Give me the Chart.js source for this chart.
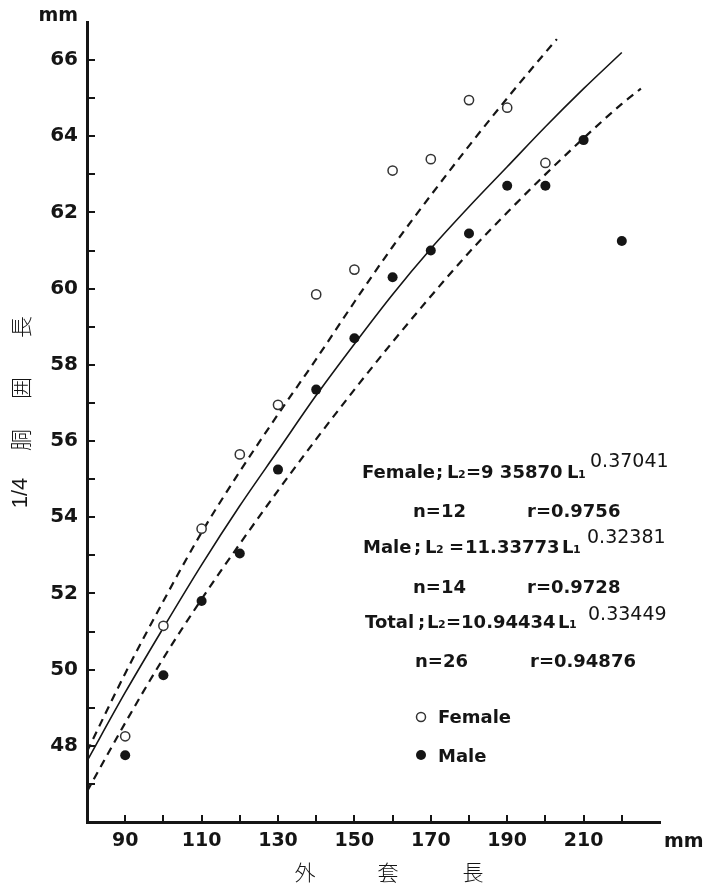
<!DOCTYPE html>
<html>
<head>
<meta charset="utf-8">
<script src="https://cdn.jsdelivr.net/npm/chart.js@4.4.1/dist/chart.umd.min.js"></script>
<style>
  html, body { margin: 0; padding: 0; background: #fff; }
  #wrap { width: 704px; height: 890px; }
</style>
</head>
<body>
<div id="wrap"><canvas id="chart" width="704" height="890"></canvas></div>
<script>
// 外套長 (mm) と 1/4胴囲長 (mm) の観測値
var femaleX = [90, 100, 110, 120, 130, 140, 150, 160, 170, 180, 190, 200];
var femaleY = [48.25, 51.15, 53.7, 55.65, 56.95, 59.85, 60.5, 63.1, 63.4, 64.95, 64.75, 63.3];

var maleX = [90, 100, 110, 120, 130, 140, 150, 160, 170, 180, 190, 200, 210, 220];
var maleY = [47.75, 49.85, 51.8, 53.05, 55.25, 57.35, 58.7, 60.3, 61.0, 61.45, 62.7, 62.7, 63.9, 61.25];

// 回帰曲線
var totalCurveX = [80, 90, 100, 110, 120, 130, 140, 150, 160, 170, 180, 190, 200, 210, 220];
var totalCurveY = [47.6, 49.4, 51.1, 52.75, 54.3, 55.75, 57.2, 58.55, 59.85, 61.05, 62.15, 63.2, 64.25, 65.25, 66.2];

var femaleCurveX = [80, 90, 100, 110, 120, 130, 140, 150, 160, 170, 180, 190, 200, 203];
var femaleCurveY = [47.85, 49.9, 51.8, 53.6, 55.2, 56.7, 58.15, 59.65, 61.1, 62.45, 63.75, 65.0, 66.2, 66.55];

var maleCurveX = [80, 90, 100, 110, 120, 130, 140, 150, 160, 170, 180, 190, 200, 210, 220, 225];
var maleCurveY = [46.8, 48.6, 50.3, 51.85, 53.3, 54.7, 56.05, 57.35, 58.6, 59.8, 60.95, 62.0, 63.0, 63.95, 64.85, 65.25];

// 軸の目盛り
var xMin = 80, xMax = 230;
var yMin = 46, yMax = 67;
var xTickLabels = [90, 110, 130, 150, 170, 190, 210];
var yTickLabels = [48, 50, 52, 54, 56, 58, 60, 62, 64, 66];
var xMinorTicks = [90, 100, 110, 120, 130, 140, 150, 160, 170, 180, 190, 200, 210, 220];
var yMinorTicks = [47, 48, 49, 50, 51, 52, 53, 54, 55, 56, 57, 58, 59, 60, 61, 62, 63, 64, 65, 66];

function toPoints(xs, ys) {
    return xs.map(function (x, i) { return { x: x, y: ys[i] }; });
}

var INK = '#151515';
var NUM_FONT = '"DejaVu Sans", Verdana, sans-serif';
var CJK_FONT = '"Noto Sans CJK JP", "Noto Sans CJK SC", sans-serif';

// 内向きの目盛り線
var innerTicks = {
    id: 'innerTicks',
    afterDraw: function (chart) {
        var ctx = chart.ctx;
        var a = chart.chartArea;
        var xs = chart.scales.x, ys = chart.scales.y;
        ctx.save();
        ctx.strokeStyle = INK;
        ctx.lineWidth = 2;
        xMinorTicks.forEach(function (v) {
            var px = Math.round(xs.getPixelForValue(v));
            ctx.beginPath();
            ctx.moveTo(px, a.bottom);
            ctx.lineTo(px, a.bottom - 7);
            ctx.stroke();
        });
        yMinorTicks.forEach(function (v) {
            var py = Math.round(ys.getPixelForValue(v));
            ctx.beginPath();
            ctx.moveTo(a.left, py);
            ctx.lineTo(a.left + 8, py);
            ctx.stroke();
        });
        ctx.restore();
    }
};

function txt(ctx, s, x, y, font, align) {
    ctx.font = font;
    ctx.textAlign = align || 'left';
    ctx.fillText(s, x, y);
}

// 注記・軸タイトル
var annotations = {
    id: 'annotations',
    afterDraw: function (chart) {
        var ctx = chart.ctx;
        var b = 'bold 18px ' + NUM_FONT;
        var sub = 'bold 11px ' + NUM_FONT;
        var sup = '19px ' + NUM_FONT;
        ctx.save();
        ctx.fillStyle = INK;
        ctx.textBaseline = 'alphabetic';

        // 単位
        txt(ctx, 'mm', 78, 21, 'bold 19px ' + NUM_FONT, 'right');
        txt(ctx, 'mm', 664, 847, 'bold 19px ' + NUM_FONT, 'left');

        // Female
        txt(ctx, 'Female', 362, 478, b);
        txt(ctx, ';', 436, 478, b);
        txt(ctx, 'L', 447, 478, b);
        txt(ctx, '2', 458, 478, sub);
        txt(ctx, '=9 35870', 466, 478, b);
        txt(ctx, 'L', 567, 478, b);
        txt(ctx, '1', 578, 478, sub);
        txt(ctx, '0.37041', 590, 467, sup);
        txt(ctx, 'n=12', 413, 517, b);
        txt(ctx, 'r=0.9756', 527, 517, b);

        // Male
        txt(ctx, 'Male', 363, 553, b);
        txt(ctx, ';', 414, 553, b);
        txt(ctx, 'L', 425, 553, b);
        txt(ctx, '2', 436, 553, sub);
        txt(ctx, '=', 449, 553, b);
        txt(ctx, '11.33773', 465, 553, b);
        txt(ctx, 'L', 562, 553, b);
        txt(ctx, '1', 573, 553, sub);
        txt(ctx, '0.32381', 587, 543, sup);
        txt(ctx, 'n=14', 413, 593, b);
        txt(ctx, 'r=0.9728', 527, 593, b);

        // Total
        txt(ctx, 'Total', 365, 628, b);
        txt(ctx, ';', 418, 628, b);
        txt(ctx, 'L', 427, 628, b);
        txt(ctx, '2', 438, 628, sub);
        txt(ctx, '=10.94434', 446, 628, b);
        txt(ctx, 'L', 558, 628, b);
        txt(ctx, '1', 569, 628, sub);
        txt(ctx, '0.33449', 588, 620, sup);
        txt(ctx, 'n=26', 415, 667, b);
        txt(ctx, 'r=0.94876', 530, 667, b);

        // 凡例
        ctx.lineWidth = 1.5;
        ctx.strokeStyle = '#333';
        ctx.beginPath();
        ctx.arc(421, 717, 4.5, 0, Math.PI * 2);
        ctx.stroke();
        ctx.beginPath();
        ctx.arc(421, 755, 5, 0, Math.PI * 2);
        ctx.fill();
        txt(ctx, 'Female', 438, 723, b);
        txt(ctx, 'Male', 438, 762, b);

        // x 軸タイトル
        ctx.textBaseline = 'middle';
        var tf = '300 21px ' + CJK_FONT;
        txt(ctx, '外', 305, 872, tf, 'center');
        txt(ctx, '套', 388, 872, tf, 'center');
        txt(ctx, '長', 473, 872, tf, 'center');

        // y 軸タイトル (回転)
        var yt = [['1/4', 493], ['胴', 440], ['囲', 388], ['長', 327]];
        yt.forEach(function (p) {
            ctx.save();
            ctx.translate(21, p[1]);
            ctx.rotate(-Math.PI / 2);
            txt(ctx, p[0], 0, 0, (p[0] === '1/4' ? '300 22px "Liberation Sans", Arial, sans-serif' : '300 22px ' + CJK_FONT), 'center');
            ctx.restore();
        });
        ctx.restore();
    }
};

new Chart(document.getElementById('chart'), {
    type: 'scatter',
    data: {
        datasets: [
            {
                label: 'Female',
                data: toPoints(femaleX, femaleY),
                pointStyle: 'circle',
                pointRadius: 4.6,
                pointBorderWidth: 1.5,
                pointBackgroundColor: '#fff',
                pointBorderColor: '#333'
            },
            {
                label: 'Male',
                data: toPoints(maleX, maleY),
                pointStyle: 'circle',
                pointRadius: 5,
                pointBorderWidth: 0,
                pointBackgroundColor: INK,
                pointBorderColor: INK
            },
            {
                label: 'Total',
                data: toPoints(totalCurveX, totalCurveY),
                showLine: true,
                pointRadius: 0,
                borderColor: INK,
                borderWidth: 1.6,
                cubicInterpolationMode: 'monotone'
            },
            {
                label: 'Female curve',
                data: toPoints(femaleCurveX, femaleCurveY),
                showLine: true,
                pointRadius: 0,
                borderColor: INK,
                borderWidth: 2.2,
                borderDash: [8, 6],
                cubicInterpolationMode: 'monotone'
            },
            {
                label: 'Male curve',
                data: toPoints(maleCurveX, maleCurveY),
                showLine: true,
                pointRadius: 0,
                borderColor: INK,
                borderWidth: 2.2,
                borderDash: [8, 6],
                cubicInterpolationMode: 'monotone'
            }
        ]
    },
    options: {
        responsive: false,
        animation: false,
        devicePixelRatio: 1,
        layout: { padding: { top: 22, right: 44, left: 0, bottom: 0 } },
        plugins: {
            legend: { display: false },
            tooltip: { enabled: false }
        },
        scales: {
            x: {
                type: 'linear',
                min: xMin,
                max: xMax,
                afterFit: function (scale) { scale.height = 68; },
                grid: { display: false, drawTicks: false },
                border: { display: true, color: INK, width: 3 },
                ticks: {
                    stepSize: 10,
                    padding: 8,
                    autoSkip: false,
                    maxRotation: 0,
                    minRotation: 0,
                    color: INK,
                    font: { family: NUM_FONT, weight: 'bold', size: 19 },
                    callback: function (v) { return xTickLabels.indexOf(v) >= 0 ? String(v) : ''; }
                }
            },
            y: {
                type: 'linear',
                min: yMin,
                max: yMax,
                afterFit: function (scale) { scale.width = 87; },
                grid: { display: false, drawTicks: false },
                border: { display: true, color: INK, width: 3 },
                ticks: {
                    stepSize: 1,
                    padding: 9,
                    autoSkip: false,
                    color: INK,
                    font: { family: NUM_FONT, weight: 'bold', size: 20 },
                    callback: function (v) { return yTickLabels.indexOf(v) >= 0 ? String(v) : ''; }
                }
            }
        }
    },
    plugins: [innerTicks, annotations]
});
</script>
</body>
</html>
